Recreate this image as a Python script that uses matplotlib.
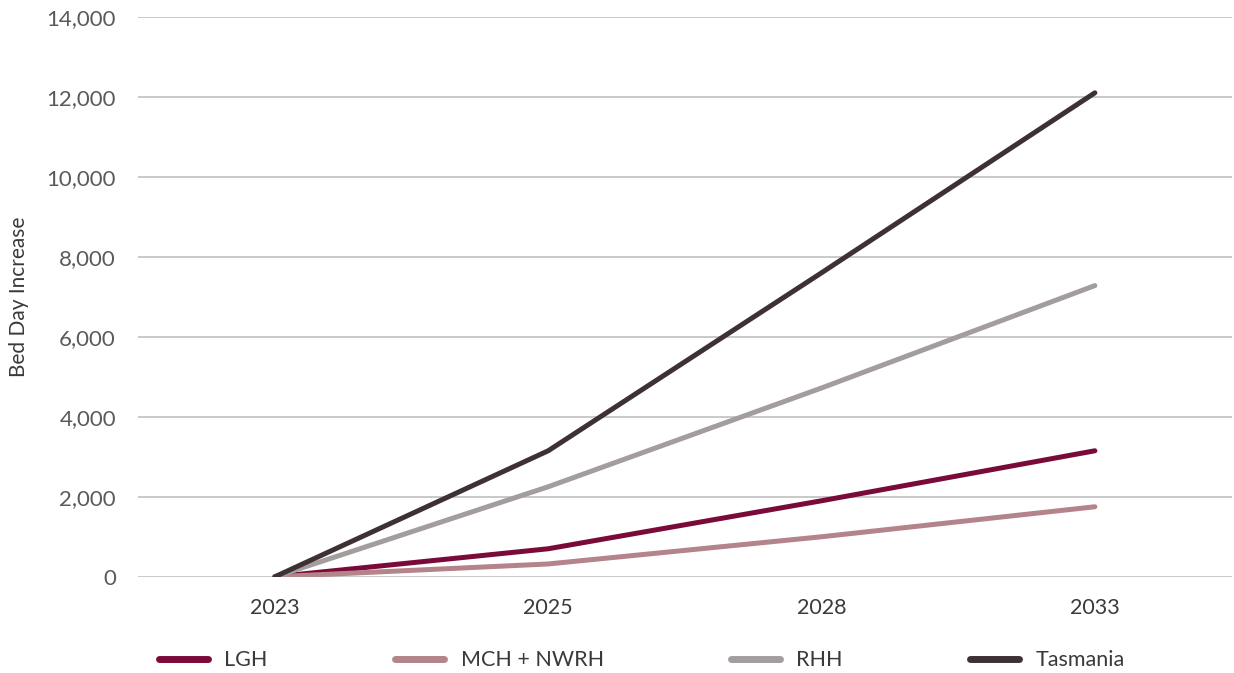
import matplotlib
matplotlib.use("Agg")
import matplotlib.pyplot as plt

# =========================
# DATA
# =========================

years = ["2023", "2025", "2028", "2033"]
lgh = [0, 700, 1900, 3150]
mch_nwrh = [0, 320, 1000, 1750]
rhh = [0, 2250, 4720, 7280]
tasmania = [0, 3150, 7600, 12100]

series_names = ["LGH", "MCH + NWRH", "RHH", "Tasmania"]
series_colors = ["#7A0A3A", "#B3848A", "#A39D9E", "#3E3133"]

plt.rcParams['font.family'] = ['Lato', 'DejaVu Sans']

# =========================
# PLOT
# =========================

fig = plt.figure(figsize=(12.34, 6.73), dpi=100)
ax = fig.add_axes([0.112, 0.143, 0.886, 0.832])

x = range(len(years))
for vals, name, col in zip([lgh, mch_nwrh, rhh, tasmania], series_names, series_colors):
    ax.plot(x, vals, color=col, lw=3.6, label=name,
            solid_capstyle='round', solid_joinstyle='round')

ax.set_xlim(-0.5, len(years) - 0.5)
ax.set_ylim(0, 14000)
ax.set_yticks(range(0, 14001, 2000))
ax.set_yticklabels([f"{v:,}" for v in range(0, 14001, 2000)])
ax.set_xticks(list(x))
ax.set_xticklabels(years)

ax.grid(axis='y', color='#C9C9C9', lw=1.4)
ax.set_axisbelow(True)
for s in ax.spines.values():
    s.set_visible(False)

ax.tick_params(axis='y', length=0, pad=16, labelsize=16, labelcolor='#5A5A5A')
ax.tick_params(axis='x', length=0, pad=15, labelsize=15.5, labelcolor='#3A3A3A')

ax.set_ylabel("Bed Day Increase", fontsize=15, color='#3A3A3A')
ax.yaxis.set_label_coords(-0.1, 0.5)

leg = fig.legend(loc='center left', bbox_to_anchor=(0.113, 0.019), ncol=4,
                 frameon=False, fontsize=15.5, handlelength=2.3, handletextpad=0.75,
                 columnspacing=5.9, labelcolor='#3A3A3A')
for h in leg.legend_handles:
    h.set_linewidth(5)

fig.savefig("out.png", dpi=100)
